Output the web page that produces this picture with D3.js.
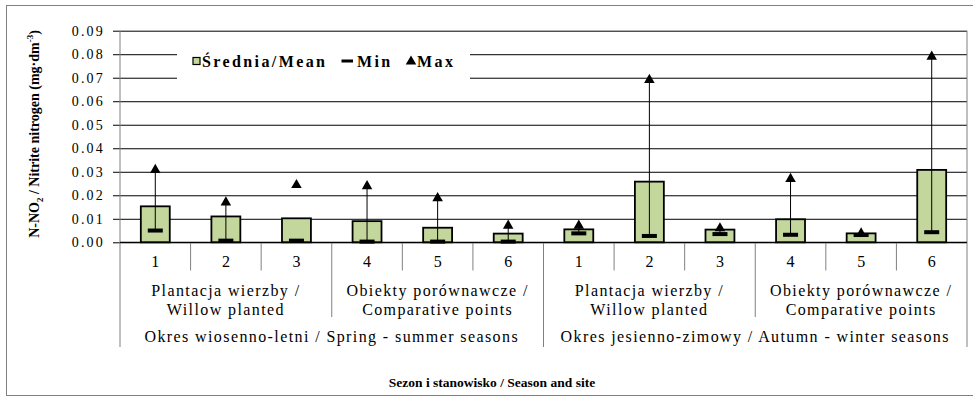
<!DOCTYPE html>
<head>
<meta charset="utf-8">
<title>N-NO2 / Nitrite nitrogen</title>
<style>
body, html { margin: 0; padding: 0; background: #fff; }
svg { display: block; font-family: "Liberation Serif", "Times New Roman", serif; }
.grid line { stroke: #000; stroke-width: 1; }
.divider { stroke: #808080; stroke-width: 1; }
</style>
<script src="https://d3js.org/d3.v7.min.js"></script>
</head>
<body>
<svg id="chart" width="973" height="408"></svg>
<script>

// values
var sites = ["1", "2", "3", "4", "5", "6", "1", "2", "3", "4", "5", "6"];
var groups = [
  ["Plantacja wierzby /", "Willow planted"],
  ["Obiekty porównawcze /", "Comparative points"],
  ["Plantacja wierzby /", "Willow planted"],
  ["Obiekty porównawcze /", "Comparative points"]
];
var seasons = [
  "Okres wiosenno-letni / Spring - summer seasons",
  "Okres jesienno-zimowy / Autumn - winter seasons"
];
var meanVals = [0.0153, 0.0110, 0.0102, 0.0090, 0.0062, 0.0037, 0.0055, 0.0258, 0.0054, 0.0098, 0.0038, 0.0308];
var minVals  = [0.0050, 0.0007, 0.0007, 0.0003, 0.0003, 0.0003, 0.0038, 0.0027, 0.0035, 0.0032, 0.0031, 0.0043];
var maxVals  = [0.0310, 0.0172, 0.0246, 0.0241, 0.0190, 0.0073, 0.0073, 0.0693, 0.0062, 0.0272, 0.0040, 0.0792];
var hasLine  = [true, true, false, true, true, true, true, true, true, true, true, true];
var yTicks = [0, 0.01, 0.02, 0.03, 0.04, 0.05, 0.06, 0.07, 0.08, 0.09];

var svg = d3.select("#chart");
var plotL = 120, plotR = 967, plotT = 30.7, plotB = 242.3;

var x = d3.scaleBand()
  .domain(d3.range(sites.length))
  .range([plotL, plotR]);
var y = d3.scaleLinear()
  .domain([0, 0.09])
  .range([plotB, plotT]);

var step = x.step();
var barW = step * 0.41;

// outer frame
svg.append("rect")
  .attr("x", 6.5).attr("y", 5.5)
  .attr("width", 975).attr("height", 390)
  .attr("fill", "none").attr("stroke", "#808080");

// grid + y axis
var yAxis = d3.axisLeft(y)
  .tickValues(yTicks)
  .tickFormat(d3.format(".2f"))
  .tickSize(-(plotR - plotL))
  .tickPadding(15);

var g = svg.append("g")
  .attr("class", "grid")
  .attr("transform", "translate(" + plotL + ",0)")
  .call(yAxis);
g.select(".domain").remove();
g.selectAll(".tick line").attr("x1", -7);
g.selectAll(".tick text")
  .attr("font-family", "Liberation Serif, serif")
  .attr("font-size", 14)
  .attr("letter-spacing", 2.2)
  .attr("fill", "#000");

// legend background covers the grid
svg.append("rect")
  .attr("x", 177).attr("y", 42)
  .attr("width", 293).attr("height", 42)
  .attr("fill", "#fff");

// vertical frame lines
svg.append("line").attr("class", "divider")
  .attr("x1", plotL).attr("x2", plotL).attr("y1", plotT).attr("y2", 347);
svg.append("line").attr("class", "divider")
  .attr("x1", plotR).attr("x2", plotR).attr("y1", plotT).attr("y2", 347);

// category dividers
d3.range(1, sites.length).forEach(function(i) {
  var xx = x(i);
  var y2 = i % 6 === 0 ? 347 : (i % 3 === 0 ? 317 : 270.5);
  svg.append("line").attr("class", "divider")
    .attr("x1", xx).attr("x2", xx)
    .attr("y1", plotB).attr("y2", y2);
});

// bars
svg.selectAll(".bar")
  .data(meanVals)
  .join("rect")
  .attr("class", "bar")
  .attr("x", function(d, i) { return x(i) + (step - barW) / 2; })
  .attr("y", function(d) { return y(d); })
  .attr("width", barW)
  .attr("height", function(d) { return plotB - y(d); })
  .attr("fill", "#c3d69b")
  .attr("stroke", "#000")
  .attr("stroke-width", 1.8);

// x baseline
svg.append("line")
  .attr("x1", plotL).attr("x2", plotR)
  .attr("y1", plotB).attr("y2", plotB)
  .attr("stroke", "#000").attr("stroke-width", 1.2);

// whiskers min -> max
svg.selectAll(".whisker")
  .data(d3.range(sites.length).filter(function(i) { return hasLine[i]; }))
  .join("line")
  .attr("class", "whisker")
  .attr("x1", function(i) { return x(i) + step / 2; })
  .attr("x2", function(i) { return x(i) + step / 2; })
  .attr("y1", function(i) { return y(minVals[i]); })
  .attr("y2", function(i) { return y(maxVals[i]); })
  .attr("stroke", "#000").attr("stroke-width", 1);

// min markers
svg.selectAll(".minmark")
  .data(minVals)
  .join("rect")
  .attr("class", "minmark")
  .attr("x", function(d, i) { return x(i) + step / 2 - 7.5; })
  .attr("y", function(d) { return y(d) - 2; })
  .attr("width", 15).attr("height", 4)
  .attr("fill", "#000");

// max markers
var tri = d3.symbol().type(d3.symbolTriangle).size(48);
svg.selectAll(".maxmark")
  .data(maxVals)
  .join("path")
  .attr("class", "maxmark")
  .attr("d", tri)
  .attr("transform", function(d, i) {
    return "translate(" + (x(i) + step / 2) + "," + (y(d) + 0.5) + ")";
  })
  .attr("fill", "#000");

// site numbers
svg.selectAll(".site")
  .data(sites)
  .join("text")
  .attr("class", "site")
  .attr("x", function(d, i) { return x(i) + step / 2; })
  .attr("y", 267)
  .attr("text-anchor", "middle")
  .attr("font-size", 16)
  .text(function(d) { return d; });

// group labels
groups.forEach(function(lines, gi) {
  var cx = x(gi * 3) + step * 1.5;
  lines.forEach(function(t, li) {
    svg.append("text")
      .attr("x", cx).attr("y", 295.5 + li * 19)
      .attr("text-anchor", "middle")
      .attr("font-size", 16)
      .attr("letter-spacing", 1.4)
      .text(t);
  });
});

// season labels
seasons.forEach(function(t, si) {
  svg.append("text")
    .attr("x", x(si * 6) + step * 3)
    .attr("y", 342)
    .attr("text-anchor", "middle")
    .attr("font-size", 16)
    .attr("letter-spacing", 1.4)
    .text(t);
});

// axis titles
svg.append("text")
  .attr("x", 492).attr("y", 386.5)
  .attr("text-anchor", "middle")
  .attr("font-size", 13.5)
  .attr("font-weight", "bold")
  .text("Sezon i stanowisko / Season and site");

var yt = svg.append("text")
  .attr("transform", "translate(39,134) rotate(-90)")
  .attr("text-anchor", "middle")
  .attr("font-size", 14)
  .attr("font-weight", "bold");
yt.append("tspan").text("N-NO");
yt.append("tspan").attr("font-size", 9).attr("dy", 4).text("2");
yt.append("tspan").attr("dy", -4).text(" / Nitrite nitrogen  (mg·dm");
yt.append("tspan").attr("font-size", 9).attr("dy", -6).text("-3");
yt.append("tspan").attr("dy", 6).text(")");

// legend
var lg = svg.append("g").attr("font-size", 16).attr("font-weight", "bold").attr("letter-spacing", 2.4);
lg.append("rect")
  .attr("x", 193).attr("y", 57.5).attr("width", 7).attr("height", 7)
  .attr("fill", "#c3d69b").attr("stroke", "#000").attr("stroke-width", 1.2);
lg.append("text").attr("x", 202).attr("y", 66.5).text("Średnia/Mean");
lg.append("rect")
  .attr("x", 341.5).attr("y", 59.5).attr("width", 11.5).attr("height", 3)
  .attr("fill", "#000");
lg.append("text").attr("x", 357).attr("y", 66.5).text("Min");
lg.append("path")
  .attr("d", tri)
  .attr("transform", "translate(411,61.5)")
  .attr("fill", "#000");
lg.append("text").attr("x", 417).attr("y", 66.5).text("Max");

</script>
</body>
</html>
